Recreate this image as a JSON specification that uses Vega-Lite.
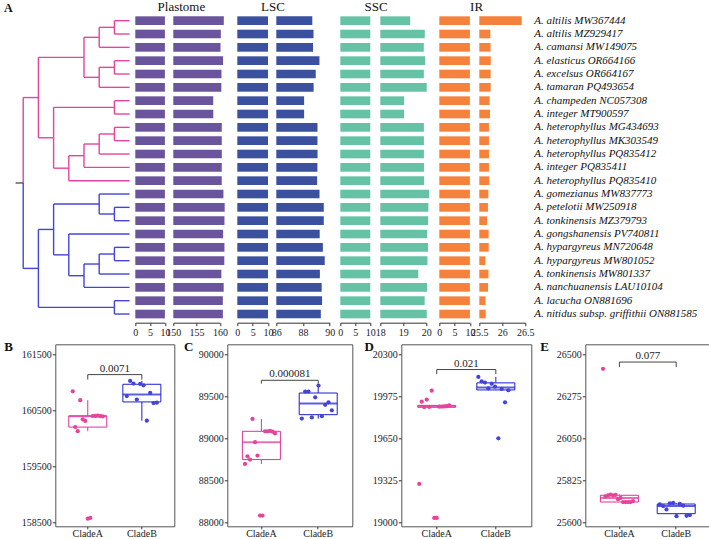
{
 "$schema": "https://vega.github.io/schema/vega-lite/v6.json",
 "padding": {"left": 3.3, "top": 0, "right": 0, "bottom": 0},
 "background": "white",
 "config": {
   "font": "Liberation Serif",
   "view": {"stroke": null},
   "axis": {"grid": false, "domainColor": "#333333", "tickColor": "#333333", "labelColor": "#222222", "labelFont": "Liberation Serif", "labelFontSize": 10, "tickSize": 3, "labelPadding": 1.5, "labelFlush": false, "labelOverlap": false}
 },
 "datasets": {
  "g": [
   {"order": 1, "label": "A. altilis MW367444", "clade": "CladeA", "plastome": 160841, "lsc": 88697, "ssc": 19298, "ir": 26423},
   {"order": 2, "label": "A. altilis MZ929417", "clade": "CladeA", "plastome": 160202, "lsc": 88788, "ssc": 19934, "ir": 25740},
   {"order": 3, "label": "A. camansi MW149075", "clade": "CladeA", "plastome": 160130, "lsc": 88749, "ssc": 19891, "ir": 25745},
   {"order": 4, "label": "A. elasticus OR664166", "clade": "CladeA", "plastome": 160682, "lsc": 89232, "ssc": 19950, "ir": 25750},
   {"order": 5, "label": "A. excelsus OR664167", "clade": "CladeA", "plastome": 160340, "lsc": 88955, "ssc": 19893, "ir": 25746},
   {"order": 6, "label": "A. tamaran PQ493654", "clade": "CladeA", "plastome": 160311, "lsc": 88796, "ssc": 20019, "ir": 25748},
   {"order": 7, "label": "A. champeden NC057308", "clade": "CladeA", "plastome": 158569, "lsc": 88083, "ssc": 19036, "ir": 25725},
   {"order": 8, "label": "A. integer MT900597", "clade": "CladeA", "plastome": 158583, "lsc": 88083, "ssc": 19036, "ir": 25732},
   {"order": 9, "label": "A. heterophyllus MG434693", "clade": "CladeA", "plastome": 160400, "lsc": 89085, "ssc": 19895, "ir": 25710},
   {"order": 10, "label": "A. heterophyllus MK303549", "clade": "CladeA", "plastome": 160401, "lsc": 89085, "ssc": 19896, "ir": 25710},
   {"order": 11, "label": "A. heterophyllus PQ835412", "clade": "CladeA", "plastome": 160407, "lsc": 89090, "ssc": 19897, "ir": 25710},
   {"order": 12, "label": "A. integer PQ835411", "clade": "CladeA", "plastome": 160399, "lsc": 89080, "ssc": 19899, "ir": 25710},
   {"order": 13, "label": "A. heterophyllus PQ835410", "clade": "CladeA", "plastome": 160395, "lsc": 89060, "ssc": 19905, "ir": 25715},
   {"order": 14, "label": "A. gomezianus MW837773", "clade": "CladeB", "plastome": 160755, "lsc": 89236, "ssc": 20125, "ir": 25697},
   {"order": 15, "label": "A. petelotii MW250918", "clade": "CladeB", "plastome": 161024, "lsc": 89557, "ssc": 20091, "ir": 25688},
   {"order": 16, "label": "A. tonkinensis MZ379793", "clade": "CladeB", "plastome": 160978, "lsc": 89557, "ssc": 20081, "ir": 25670},
   {"order": 17, "label": "A. gongshanensis PV740811", "clade": "CladeB", "plastome": 160692, "lsc": 89250, "ssc": 20036, "ir": 25703},
   {"order": 18, "label": "A. hypargyreus MN720648", "clade": "CladeB", "plastome": 160972, "lsc": 89489, "ssc": 20073, "ir": 25705},
   {"order": 19, "label": "A. hypargyreus MW801052", "clade": "CladeB", "plastome": 160946, "lsc": 89628, "ssc": 20050, "ir": 25634},
   {"order": 20, "label": "A. tonkinensis MW801337", "clade": "CladeB", "plastome": 160316, "lsc": 89265, "ssc": 19651, "ir": 25700},
   {"order": 21, "label": "A. nanchuanensis LAU10104", "clade": "CladeB", "plastome": 160812, "lsc": 89400, "ssc": 20032, "ir": 25690},
   {"order": 22, "label": "A. lacucha ON881696", "clade": "CladeB", "plastome": 160631, "lsc": 89430, "ssc": 19929, "ir": 25636},
   {"order": 23, "label": "A. nitidus subsp. griffithii ON881585", "clade": "CladeB", "plastome": 160637, "lsc": 89335, "ssc": 20022, "ir": 25640}
  ],
  "tree": [
   {"c": "A", "x": 6, "x2": 6, "y": 1, "y2": 2},
   {"c": "A", "x": 5, "x2": 5, "y": 1.5, "y2": 3},
   {"c": "A", "x": 6, "x2": 6, "y": 4, "y2": 5},
   {"c": "A", "x": 5, "x2": 5, "y": 4.5, "y2": 6},
   {"c": "A", "x": 4, "x2": 4, "y": 2.25, "y2": 5.25},
   {"c": "A", "x": 6, "x2": 6, "y": 7, "y2": 8},
   {"c": "A", "x": 6, "x2": 6, "y": 9, "y2": 10},
   {"c": "A", "x": 5, "x2": 5, "y": 9.5, "y2": 11},
   {"c": "A", "x": 4, "x2": 4, "y": 10.25, "y2": 12},
   {"c": "A", "x": 3, "x2": 3, "y": 11.125, "y2": 13},
   {"c": "A", "x": 2, "x2": 2, "y": 7.5, "y2": 12.0625},
   {"c": "A", "x": 1, "x2": 1, "y": 3.75, "y2": 9.78125},
   {"c": "A", "x": 0, "x2": 0, "y": 6.765625, "y2": 13.171875},
   {"c": "A", "x": 6, "x2": 7, "y": 1, "y2": 1},
   {"c": "A", "x": 6, "x2": 7, "y": 2, "y2": 2},
   {"c": "A", "x": 5, "x2": 7, "y": 3, "y2": 3},
   {"c": "A", "x": 6, "x2": 7, "y": 4, "y2": 4},
   {"c": "A", "x": 6, "x2": 7, "y": 5, "y2": 5},
   {"c": "A", "x": 5, "x2": 7, "y": 6, "y2": 6},
   {"c": "A", "x": 6, "x2": 7, "y": 7, "y2": 7},
   {"c": "A", "x": 6, "x2": 7, "y": 8, "y2": 8},
   {"c": "A", "x": 6, "x2": 7, "y": 9, "y2": 9},
   {"c": "A", "x": 6, "x2": 7, "y": 10, "y2": 10},
   {"c": "A", "x": 5, "x2": 7, "y": 11, "y2": 11},
   {"c": "A", "x": 4, "x2": 7, "y": 12, "y2": 12},
   {"c": "A", "x": 3, "x2": 7, "y": 13, "y2": 13},
   {"c": "A", "x": 5, "x2": 6, "y": 1.5, "y2": 1.5},
   {"c": "A", "x": 4, "x2": 5, "y": 2.25, "y2": 2.25},
   {"c": "A", "x": 5, "x2": 6, "y": 4.5, "y2": 4.5},
   {"c": "A", "x": 4, "x2": 5, "y": 5.25, "y2": 5.25},
   {"c": "A", "x": 1, "x2": 4, "y": 3.75, "y2": 3.75},
   {"c": "A", "x": 2, "x2": 6, "y": 7.5, "y2": 7.5},
   {"c": "A", "x": 5, "x2": 6, "y": 9.5, "y2": 9.5},
   {"c": "A", "x": 4, "x2": 5, "y": 10.25, "y2": 10.25},
   {"c": "A", "x": 3, "x2": 4, "y": 11.125, "y2": 11.125},
   {"c": "A", "x": 2, "x2": 3, "y": 12.0625, "y2": 12.0625},
   {"c": "A", "x": 1, "x2": 2, "y": 9.78125, "y2": 9.78125},
   {"c": "A", "x": 0, "x2": 1, "y": 6.765625, "y2": 6.765625},
   {"c": "B", "x": 6, "x2": 6, "y": 15, "y2": 16},
   {"c": "B", "x": 5, "x2": 5, "y": 14, "y2": 15.5},
   {"c": "B", "x": 6, "x2": 6, "y": 18, "y2": 19},
   {"c": "B", "x": 5, "x2": 5, "y": 18.5, "y2": 20},
   {"c": "B", "x": 4, "x2": 4, "y": 19.25, "y2": 21},
   {"c": "B", "x": 3, "x2": 3, "y": 17, "y2": 20.125},
   {"c": "B", "x": 2, "x2": 2, "y": 14.75, "y2": 18.5625},
   {"c": "B", "x": 6, "x2": 6, "y": 22, "y2": 23},
   {"c": "B", "x": 1, "x2": 1, "y": 16.65625, "y2": 22.5},
   {"c": "B", "x": 0, "x2": 0, "y": 13.171875, "y2": 19.578125},
   {"c": "B", "x": 5, "x2": 7, "y": 14, "y2": 14},
   {"c": "B", "x": 6, "x2": 7, "y": 15, "y2": 15},
   {"c": "B", "x": 6, "x2": 7, "y": 16, "y2": 16},
   {"c": "B", "x": 3, "x2": 7, "y": 17, "y2": 17},
   {"c": "B", "x": 6, "x2": 7, "y": 18, "y2": 18},
   {"c": "B", "x": 6, "x2": 7, "y": 19, "y2": 19},
   {"c": "B", "x": 5, "x2": 7, "y": 20, "y2": 20},
   {"c": "B", "x": 4, "x2": 7, "y": 21, "y2": 21},
   {"c": "B", "x": 6, "x2": 7, "y": 22, "y2": 22},
   {"c": "B", "x": 6, "x2": 7, "y": 23, "y2": 23},
   {"c": "B", "x": 5, "x2": 6, "y": 15.5, "y2": 15.5},
   {"c": "B", "x": 2, "x2": 5, "y": 14.75, "y2": 14.75},
   {"c": "B", "x": 5, "x2": 6, "y": 18.5, "y2": 18.5},
   {"c": "B", "x": 4, "x2": 5, "y": 19.25, "y2": 19.25},
   {"c": "B", "x": 3, "x2": 4, "y": 20.125, "y2": 20.125},
   {"c": "B", "x": 2, "x2": 3, "y": 18.5625, "y2": 18.5625},
   {"c": "B", "x": 1, "x2": 2, "y": 16.65625, "y2": 16.65625},
   {"c": "B", "x": 1, "x2": 6, "y": 22.5, "y2": 22.5},
   {"c": "B", "x": 0, "x2": 1, "y": 19.578125, "y2": 19.578125},
   {"c": "R", "x": -0.5, "x2": 0, "y": 13.171875, "y2": 13.171875}
  ]
 },
 "spacing": 2.3,
 "vconcat": [
  {
   "bounds": "flush",
   "spacing": 0,
   "hconcat": [
    {
     "width": 124, "height": 306.7,
     "layer": [
      {
       "data": {"name": "tree"},
       "mark": {"type": "rule", "strokeWidth": 1.4},
       "encoding": {
        "x": {"field": "x", "type": "quantitative", "scale": {"domain": [-0.5, 7], "range": [4.3, 118.3], "nice": false, "zero": false}, "axis": null},
        "x2": {"field": "x2"},
        "y": {"field": "y", "type": "quantitative", "scale": {"domain": [0.5, 23.5], "reverse": true, "nice": false, "zero": false}, "axis": null},
        "y2": {"field": "y2"},
        "color": {"field": "c", "type": "nominal", "scale": {"domain": ["A", "B", "R"], "range": ["#e6449c", "#4444d8", "#555555"]}, "legend": null}
       }
      },
      {
       "data": {"values": [{"t": "A"}]},
       "mark": {"type": "text", "align": "left", "baseline": "alphabetic", "dx": -11.7, "dy": -1.6, "fontSize": 12, "fontWeight": "bold", "color": "#111111"},
       "encoding": {"x": {"datum": -0.5, "type": "quantitative", "axis": null}, "y": {"datum": 0.5, "type": "quantitative", "axis": null}, "text": {"field": "t", "type": "nominal"}}
      }
     ]
    },
    {
     "width": 38, "height": 306.7,
     "resolve": {"scale": {"y": "independent"}},
     "layer": [
      {
       "data": {"name": "g"},
       "mark": {"type": "bar", "color": "#6a549b"},
       "encoding": {
        "y": {"field": "order", "type": "ordinal", "axis": null, "scale": {"paddingInner": 0.35, "paddingOuter": 0.175}},
        "x": {"field": "plastome", "type": "quantitative", "scale": {"domain": [0, 10000], "range": [0, 29.6], "clamp": true, "nice": false, "zero": false}, "axis": {"title": null, "values": [0, 5000, 10000], "labelExpr": "datum.value/1000", "offset": 2, "labelOverlap": false}},
        "x2": {"datum": 0}
       }
      },
      {
       "data": {"values": [{"t": "Plastome"}]},
       "mark": {"type": "text", "align": "center", "baseline": "alphabetic", "dx": 46.1, "dy": -3.3, "fontSize": 13, "color": "#111111"},
       "encoding": {"x": {"datum": 0, "type": "quantitative", "axis": {"title": null, "values": [0, 5000, 10000], "labelExpr": "datum.value/1000", "offset": 2, "labelOverlap": false}}, "y": {"datum": 1, "type": "quantitative", "scale": {"domain": [0, 1]}, "axis": null}, "text": {"field": "t", "type": "nominal"}}
      }
     ]
    },
    {
     "width": 63.6, "height": 306.7,
     "data": {"name": "g"},
     "mark": {"type": "bar", "color": "#6a549b"},
     "encoding": {
      "y": {"field": "order", "type": "ordinal", "axis": null, "scale": {"paddingInner": 0.35, "paddingOuter": 0.175}},
      "x": {"field": "plastome", "type": "quantitative", "scale": {"domain": [150000, 160000], "range": [0, 46.6], "nice": false, "zero": false}, "axis": {"title": null, "values": [150000, 155000, 160000], "labelExpr": "datum.value/1000", "offset": 2}},
      "x2": {"datum": 150000}
     }
    },
    {
     "width": 39, "height": 306.7,
     "resolve": {"scale": {"y": "independent"}},
     "layer": [
      {
       "data": {"name": "g"},
       "mark": {"type": "bar", "color": "#3b509e"},
       "encoding": {
        "y": {"field": "order", "type": "ordinal", "axis": null, "scale": {"paddingInner": 0.35, "paddingOuter": 0.175}},
        "x": {"field": "lsc", "type": "quantitative", "scale": {"domain": [0, 10000], "range": [0, 30.7], "clamp": true, "nice": false, "zero": false}, "axis": {"title": null, "values": [0, 5000, 10000], "labelExpr": "datum.value/1000", "offset": 2, "labelOverlap": false}},
        "x2": {"datum": 0}
       }
      },
      {
       "data": {"values": [{"t": "LSC"}]},
       "mark": {"type": "text", "align": "center", "baseline": "alphabetic", "dx": 35.7, "dy": -3.3, "fontSize": 13, "color": "#111111"},
       "encoding": {"x": {"datum": 0, "type": "quantitative", "axis": {"title": null, "values": [0, 5000, 10000], "labelExpr": "datum.value/1000", "offset": 2, "labelOverlap": false}}, "y": {"datum": 1, "type": "quantitative", "scale": {"domain": [0, 1]}, "axis": null}, "text": {"field": "t", "type": "nominal"}}
      }
     ]
    },
    {
     "width": 64, "height": 306.7,
     "data": {"name": "g"},
     "mark": {"type": "bar", "color": "#3b509e"},
     "encoding": {
      "y": {"field": "order", "type": "ordinal", "axis": null, "scale": {"paddingInner": 0.35, "paddingOuter": 0.175}},
      "x": {"field": "lsc", "type": "quantitative", "scale": {"domain": [86000, 90000], "range": [0, 53.4], "nice": false, "zero": false}, "axis": {"title": null, "values": [86000, 88000, 90000], "labelExpr": "datum.value/1000", "offset": 2}},
      "x2": {"datum": 86000}
     }
    },
    {
     "width": 39.7, "height": 306.7,
     "resolve": {"scale": {"y": "independent"}},
     "layer": [
      {
       "data": {"name": "g"},
       "mark": {"type": "bar", "color": "#66c2a5"},
       "encoding": {
        "y": {"field": "order", "type": "ordinal", "axis": null, "scale": {"paddingInner": 0.35, "paddingOuter": 0.175}},
        "x": {"field": "ssc", "type": "quantitative", "scale": {"domain": [0, 10000], "range": [0, 30], "clamp": true, "nice": false, "zero": false}, "axis": {"title": null, "values": [0, 5000, 10000], "labelExpr": "datum.value/1000", "offset": 2, "labelOverlap": false}},
        "x2": {"datum": 0}
       }
      },
      {
       "data": {"values": [{"t": "SSC"}]},
       "mark": {"type": "text", "align": "center", "baseline": "alphabetic", "dx": 35.7, "dy": -3.3, "fontSize": 13, "color": "#111111"},
       "encoding": {"x": {"datum": 0, "type": "quantitative", "axis": {"title": null, "values": [0, 5000, 10000], "labelExpr": "datum.value/1000", "offset": 2, "labelOverlap": false}}, "y": {"datum": 1, "type": "quantitative", "scale": {"domain": [0, 1]}, "axis": null}, "text": {"field": "t", "type": "nominal"}}
      }
     ]
    },
    {
     "width": 58.7, "height": 306.7,
     "data": {"name": "g"},
     "mark": {"type": "bar", "color": "#66c2a5"},
     "encoding": {
      "y": {"field": "order", "type": "ordinal", "axis": null, "scale": {"paddingInner": 0.35, "paddingOuter": 0.175}},
      "x": {"field": "ssc", "type": "quantitative", "scale": {"domain": [18000, 20000], "range": [0, 46], "nice": false, "zero": false}, "axis": {"title": null, "values": [18000, 19000, 20000], "labelExpr": "datum.value/1000", "offset": 2}},
      "x2": {"datum": 18000}
     }
    },
    {
     "width": 39.6, "height": 306.7,
     "resolve": {"scale": {"y": "independent"}},
     "layer": [
      {
       "data": {"name": "g"},
       "mark": {"type": "bar", "color": "#f5823c"},
       "encoding": {
        "y": {"field": "order", "type": "ordinal", "axis": null, "scale": {"paddingInner": 0.35, "paddingOuter": 0.175}},
        "x": {"field": "ir", "type": "quantitative", "scale": {"domain": [0, 10000], "range": [0, 30.6], "clamp": true, "nice": false, "zero": false}, "axis": {"title": null, "values": [0, 5000, 10000], "labelExpr": "datum.value/1000", "offset": 2, "labelOverlap": false}},
        "x2": {"datum": 0}
       }
      },
      {
       "data": {"values": [{"t": "IR"}]},
       "mark": {"type": "text", "align": "center", "baseline": "alphabetic", "dx": 37.3, "dy": -3.3, "fontSize": 13, "color": "#111111"},
       "encoding": {"x": {"datum": 0, "type": "quantitative", "axis": {"title": null, "values": [0, 5000, 10000], "labelExpr": "datum.value/1000", "offset": 2, "labelOverlap": false}}, "y": {"datum": 1, "type": "quantitative", "scale": {"domain": [0, 1]}, "axis": null}, "text": {"field": "t", "type": "nominal"}}
      }
     ]
    },
    {
     "width": 54.4, "height": 306.7,
     "data": {"name": "g"},
     "mark": {"type": "bar", "color": "#f5823c"},
     "encoding": {
      "y": {"field": "order", "type": "ordinal", "axis": null, "scale": {"paddingInner": 0.35, "paddingOuter": 0.175}},
      "x": {"field": "ir", "type": "quantitative", "scale": {"domain": [25500, 26500], "range": [0, 46], "nice": false, "zero": false}, "axis": {"title": null, "values": [25500, 26000, 26500], "labelExpr": "datum.value/1000", "offset": 2}},
      "x2": {"datum": 25500}
     }
    },
    {
     "width": 170, "height": 306.7,
     "data": {"name": "g"},
     "mark": {"type": "text", "align": "left", "baseline": "middle", "fontSize": 11, "fontStyle": "italic", "font": "Liberation Serif", "color": "#111111"},
     "encoding": {
      "y": {"field": "order", "type": "ordinal", "axis": null, "scale": {"paddingInner": 0.35, "paddingOuter": 0.175}},
      "x": {"datum": 0, "type": "quantitative", "scale": {"domain": [0, 1]}, "axis": null},
      "text": {"field": "label"}
     }
    }
   ]
  },
  {
   "bounds": "flush",
   "spacing": 0,
   "hconcat": [
    {"width": 43.6, "height": 182, "data": {"values": [{"a": 1}]}, "mark": {"type": "point", "opacity": 0}},
    {
     "width": 119, "height": 182,
     "view": {"stroke": "#555555", "strokeWidth": 1},
     "data": {"name": "g"},
     "transform": [{"window": [{"op": "percent_rank", "as": "jit"}], "groupby": ["clade"], "sort": [{"field": "order"}]}],
     "layer": [
      {"transform": [{"filter": "datum.clade == 'CladeA'"}], "mark": {"type": "boxplot", "extent": 1.5, "size": 38, "outliers": false, "ticks": false, "color": "#e0309a", "box": {"fill": "white", "stroke": "#e0309a", "strokeWidth": 1}, "median": {"color": "#e0309a", "thickness": 2}, "rule": {"color": "#e0309a", "strokeWidth": 1}},
       "encoding": {
        "x": {"field": "clade", "type": "nominal", "scale": {"domain": ["CladeA", "CladeB"], "paddingInner": 0, "paddingOuter": 0.1}, "axis": {"title": null, "labelAngle": 0, "domain": false, "labelFontSize": 10, "tickSize": 2.5, "labelPadding": 0}},
        "y": {"field": "plastome", "type": "quantitative", "scale": {"domain": [158434, 161678], "nice": false, "zero": false}, "axis": {"title": null, "values": [158500, 159500, 160500, 161500], "format": "d", "domain": false, "labelFontSize": 10, "tickSize": 3, "labelPadding": 1}}
       }},
      {"transform": [{"filter": "datum.clade == 'CladeB'"}], "mark": {"type": "boxplot", "extent": 1.5, "size": 38, "outliers": false, "ticks": false, "color": "#1d1dd0", "box": {"fill": "white", "stroke": "#1d1dd0", "strokeWidth": 1}, "median": {"color": "#1d1dd0", "thickness": 2}, "rule": {"color": "#1d1dd0", "strokeWidth": 1}},
       "encoding": {"x": {"field": "clade", "type": "nominal"}, "y": {"field": "plastome", "type": "quantitative"}}},
      {"mark": {"type": "circle", "size": 18, "opacity": 1}, "encoding": {"x": {"field": "clade", "type": "nominal"}, "y": {"field": "plastome", "type": "quantitative"}, "xOffset": {"field": "jit", "type": "quantitative", "scale": {"domain": [-0.4, 1.4]}}, "color": {"field": "clade", "type": "nominal", "scale": {"domain": ["CladeA", "CladeB"], "range": ["#e0309a", "#1d1dd0"]}, "legend": null}}},
      {"data": {"values": [{"p": "0.0071"}]}, "mark": {"type": "rule", "color": "#444444", "strokeWidth": 1}, "encoding": {"x": {"datum": "CladeA", "type": "nominal"}, "x2": {"datum": "CladeB"}, "y": {"datum": 161138, "type": "quantitative"}}},
      {"data": {"values": [{"p": "0.0071"}]}, "mark": {"type": "rule", "color": "#444444", "strokeWidth": 1}, "encoding": {"x": {"datum": "CladeA", "type": "nominal"}, "y": {"datum": 161138, "type": "quantitative"}, "y2": {"datum": 161049}}},
      {"data": {"values": [{"p": "0.0071"}]}, "mark": {"type": "rule", "color": "#444444", "strokeWidth": 1}, "encoding": {"x": {"datum": "CladeB", "type": "nominal"}, "y": {"datum": 161138, "type": "quantitative"}, "y2": {"datum": 161049}}},
      {"data": {"values": [{"p": "0.0071"}]}, "mark": {"type": "text", "baseline": "bottom", "dy": -1, "fontSize": 11, "color": "#222222"}, "encoding": {"x": {"datum": "CladeA", "type": "nominal", "bandPosition": 1}, "y": {"datum": 161138, "type": "quantitative"}, "text": {"field": "p", "type": "nominal"}}},
      {"data": {"values": [{"t": "B"}]}, "mark": {"type": "text", "align": "left", "baseline": "alphabetic", "dx": -56.4, "dy": 6.7, "fontSize": 13, "fontWeight": "bold", "color": "#111111"}, "encoding": {"x": {"datum": "CladeA", "type": "nominal", "bandPosition": 0}, "y": {"datum": 161678, "type": "quantitative"}, "text": {"field": "t", "type": "nominal"}}}
     ]
    },
    {"width": 52.7, "height": 182, "data": {"values": [{"a": 1}]}, "mark": {"type": "point", "opacity": 0}},
    {
     "width": 125, "height": 182,
     "view": {"stroke": "#555555", "strokeWidth": 1},
     "data": {"name": "g"},
     "transform": [{"window": [{"op": "percent_rank", "as": "jit"}], "groupby": ["clade"], "sort": [{"field": "order"}]}],
     "layer": [
      {"transform": [{"filter": "datum.clade == 'CladeA'"}], "mark": {"type": "boxplot", "extent": 1.5, "size": 38, "outliers": false, "ticks": false, "color": "#e0309a", "box": {"fill": "white", "stroke": "#e0309a", "strokeWidth": 1}, "median": {"color": "#e0309a", "thickness": 2}, "rule": {"color": "#e0309a", "strokeWidth": 1}},
       "encoding": {
        "x": {"field": "clade", "type": "nominal", "scale": {"domain": ["CladeA", "CladeB"], "paddingInner": 0, "paddingOuter": 0.1}, "axis": {"title": null, "labelAngle": 0, "domain": false, "labelFontSize": 10, "tickSize": 2.5, "labelPadding": 0}},
        "y": {"field": "lsc", "type": "quantitative", "scale": {"domain": [87956, 90119], "nice": false, "zero": false}, "axis": {"title": null, "values": [88000, 88500, 89000, 89500, 90000], "format": "d", "domain": false, "labelFontSize": 10, "tickSize": 3, "labelPadding": 1}}
       }},
      {"transform": [{"filter": "datum.clade == 'CladeB'"}], "mark": {"type": "boxplot", "extent": 1.5, "size": 38, "outliers": false, "ticks": false, "color": "#1d1dd0", "box": {"fill": "white", "stroke": "#1d1dd0", "strokeWidth": 1}, "median": {"color": "#1d1dd0", "thickness": 2}, "rule": {"color": "#1d1dd0", "strokeWidth": 1}},
       "encoding": {"x": {"field": "clade", "type": "nominal"}, "y": {"field": "lsc", "type": "quantitative"}}},
      {"mark": {"type": "circle", "size": 18, "opacity": 1}, "encoding": {"x": {"field": "clade", "type": "nominal"}, "y": {"field": "lsc", "type": "quantitative"}, "xOffset": {"field": "jit", "type": "quantitative", "scale": {"domain": [-0.4, 1.4]}}, "color": {"field": "clade", "type": "nominal", "scale": {"domain": ["CladeA", "CladeB"], "range": ["#e0309a", "#1d1dd0"]}, "legend": null}}},
      {"data": {"values": [{"p": "0.000081"}]}, "mark": {"type": "rule", "color": "#444444", "strokeWidth": 1}, "encoding": {"x": {"datum": "CladeA", "type": "nominal"}, "x2": {"datum": "CladeB"}, "y": {"datum": 89691, "type": "quantitative"}}},
      {"data": {"values": [{"p": "0.000081"}]}, "mark": {"type": "rule", "color": "#444444", "strokeWidth": 1}, "encoding": {"x": {"datum": "CladeA", "type": "nominal"}, "y": {"datum": 89691, "type": "quantitative"}, "y2": {"datum": 89652}}},
      {"data": {"values": [{"p": "0.000081"}]}, "mark": {"type": "rule", "color": "#444444", "strokeWidth": 1}, "encoding": {"x": {"datum": "CladeB", "type": "nominal"}, "y": {"datum": 89691, "type": "quantitative"}, "y2": {"datum": 89652}}},
      {"data": {"values": [{"p": "0.000081"}]}, "mark": {"type": "text", "baseline": "bottom", "dy": -1, "fontSize": 11, "color": "#222222"}, "encoding": {"x": {"datum": "CladeA", "type": "nominal", "bandPosition": 1}, "y": {"datum": 89691, "type": "quantitative"}, "text": {"field": "p", "type": "nominal"}}},
      {"data": {"values": [{"t": "C"}]}, "mark": {"type": "text", "align": "left", "baseline": "alphabetic", "dx": -49, "dy": 6.7, "fontSize": 13, "fontWeight": "bold", "color": "#111111"}, "encoding": {"x": {"datum": "CladeA", "type": "nominal", "bandPosition": 0}, "y": {"datum": 90119, "type": "quantitative"}, "text": {"field": "t", "type": "nominal"}}}
     ]
    },
    {"width": 49, "height": 182, "data": {"values": [{"a": 1}]}, "mark": {"type": "point", "opacity": 0}},
    {
     "width": 130, "height": 182,
     "view": {"stroke": "#555555", "strokeWidth": 1},
     "data": {"name": "g"},
     "transform": [{"window": [{"op": "percent_rank", "as": "jit"}], "groupby": ["clade"], "sort": [{"field": "order"}]}],
     "layer": [
      {"transform": [{"filter": "datum.clade == 'CladeA'"}], "mark": {"type": "boxplot", "extent": 1.5, "size": 38, "outliers": false, "ticks": false, "color": "#e0309a", "box": {"fill": "white", "stroke": "#e0309a", "strokeWidth": 1}, "median": {"color": "#e0309a", "thickness": 2}, "rule": {"color": "#e0309a", "strokeWidth": 1}},
       "encoding": {
        "x": {"field": "clade", "type": "nominal", "scale": {"domain": ["CladeA", "CladeB"], "paddingInner": 0, "paddingOuter": 0.1}, "axis": {"title": null, "labelAngle": 0, "domain": false, "labelFontSize": 10, "tickSize": 2.5, "labelPadding": 0}},
        "y": {"field": "ssc", "type": "quantitative", "scale": {"domain": [18971, 20377], "nice": false, "zero": false}, "axis": {"title": null, "values": [19000, 19325, 19650, 19975, 20300], "format": "d", "domain": false, "labelFontSize": 10, "tickSize": 3, "labelPadding": 1}}
       }},
      {"transform": [{"filter": "datum.clade == 'CladeB'"}], "mark": {"type": "boxplot", "extent": 1.5, "size": 38, "outliers": false, "ticks": false, "color": "#1d1dd0", "box": {"fill": "white", "stroke": "#1d1dd0", "strokeWidth": 1}, "median": {"color": "#1d1dd0", "thickness": 2}, "rule": {"color": "#1d1dd0", "strokeWidth": 1}},
       "encoding": {"x": {"field": "clade", "type": "nominal"}, "y": {"field": "ssc", "type": "quantitative"}}},
      {"mark": {"type": "circle", "size": 18, "opacity": 1}, "encoding": {"x": {"field": "clade", "type": "nominal"}, "y": {"field": "ssc", "type": "quantitative"}, "xOffset": {"field": "jit", "type": "quantitative", "scale": {"domain": [-0.4, 1.4]}}, "color": {"field": "clade", "type": "nominal", "scale": {"domain": ["CladeA", "CladeB"], "range": ["#e0309a", "#1d1dd0"]}, "legend": null}}},
      {"data": {"values": [{"p": "0.021"}]}, "mark": {"type": "rule", "color": "#444444", "strokeWidth": 1}, "encoding": {"x": {"datum": "CladeA", "type": "nominal"}, "x2": {"datum": "CladeB"}, "y": {"datum": 20182, "type": "quantitative"}}},
      {"data": {"values": [{"p": "0.021"}]}, "mark": {"type": "rule", "color": "#444444", "strokeWidth": 1}, "encoding": {"x": {"datum": "CladeA", "type": "nominal"}, "y": {"datum": 20182, "type": "quantitative"}, "y2": {"datum": 20146}}},
      {"data": {"values": [{"p": "0.021"}]}, "mark": {"type": "rule", "color": "#444444", "strokeWidth": 1}, "encoding": {"x": {"datum": "CladeB", "type": "nominal"}, "y": {"datum": 20182, "type": "quantitative"}, "y2": {"datum": 20146}}},
      {"data": {"values": [{"p": "0.021"}]}, "mark": {"type": "text", "baseline": "bottom", "dy": -1, "fontSize": 11, "color": "#222222"}, "encoding": {"x": {"datum": "CladeA", "type": "nominal", "bandPosition": 1}, "y": {"datum": 20182, "type": "quantitative"}, "text": {"field": "p", "type": "nominal"}}},
      {"data": {"values": [{"t": "D"}]}, "mark": {"type": "text", "align": "left", "baseline": "alphabetic", "dx": -42.6, "dy": 6.7, "fontSize": 13, "fontWeight": "bold", "color": "#111111"}, "encoding": {"x": {"datum": "CladeA", "type": "nominal", "bandPosition": 0}, "y": {"datum": 20377, "type": "quantitative"}, "text": {"field": "t", "type": "nominal"}}}
     ]
    },
    {"width": 53.3, "height": 182, "data": {"values": [{"a": 1}]}, "mark": {"type": "point", "opacity": 0}},
    {
     "width": 125, "height": 182,
     "view": {"stroke": "#555555", "strokeWidth": 1},
     "data": {"name": "g"},
     "transform": [{"window": [{"op": "percent_rank", "as": "jit"}], "groupby": ["clade"], "sort": [{"field": "order"}]}],
     "layer": [
      {"transform": [{"filter": "datum.clade == 'CladeA'"}], "mark": {"type": "boxplot", "extent": 1.5, "size": 38, "outliers": false, "ticks": false, "color": "#e0309a", "box": {"fill": "white", "stroke": "#e0309a", "strokeWidth": 1}, "median": {"color": "#e0309a", "thickness": 2}, "rule": {"color": "#e0309a", "strokeWidth": 1}},
       "encoding": {
        "x": {"field": "clade", "type": "nominal", "scale": {"domain": ["CladeA", "CladeB"], "paddingInner": 0, "paddingOuter": 0.1}, "axis": {"title": null, "labelAngle": 0, "domain": false, "labelFontSize": 10, "tickSize": 2.5, "labelPadding": 0}},
        "y": {"field": "ir", "type": "quantitative", "scale": {"domain": [25580, 26554], "nice": false, "zero": false}, "axis": {"title": null, "values": [25600, 25825, 26050, 26275, 26500], "format": "d", "domain": false, "labelFontSize": 10, "tickSize": 3, "labelPadding": 1}}
       }},
      {"transform": [{"filter": "datum.clade == 'CladeB'"}], "mark": {"type": "boxplot", "extent": 1.5, "size": 38, "outliers": false, "ticks": false, "color": "#1d1dd0", "box": {"fill": "white", "stroke": "#1d1dd0", "strokeWidth": 1}, "median": {"color": "#1d1dd0", "thickness": 2}, "rule": {"color": "#1d1dd0", "strokeWidth": 1}},
       "encoding": {"x": {"field": "clade", "type": "nominal"}, "y": {"field": "ir", "type": "quantitative"}}},
      {"mark": {"type": "circle", "size": 18, "opacity": 1}, "encoding": {"x": {"field": "clade", "type": "nominal"}, "y": {"field": "ir", "type": "quantitative"}, "xOffset": {"field": "jit", "type": "quantitative", "scale": {"domain": [-0.4, 1.4]}}, "color": {"field": "clade", "type": "nominal", "scale": {"domain": ["CladeA", "CladeB"], "range": ["#e0309a", "#1d1dd0"]}, "legend": null}}},
      {"data": {"values": [{"p": "0.077"}]}, "mark": {"type": "rule", "color": "#444444", "strokeWidth": 1}, "encoding": {"x": {"datum": "CladeA", "type": "nominal"}, "x2": {"datum": "CladeB"}, "y": {"datum": 26459, "type": "quantitative"}}},
      {"data": {"values": [{"p": "0.077"}]}, "mark": {"type": "rule", "color": "#444444", "strokeWidth": 1}, "encoding": {"x": {"datum": "CladeA", "type": "nominal"}, "y": {"datum": 26459, "type": "quantitative"}, "y2": {"datum": 26432}}},
      {"data": {"values": [{"p": "0.077"}]}, "mark": {"type": "rule", "color": "#444444", "strokeWidth": 1}, "encoding": {"x": {"datum": "CladeB", "type": "nominal"}, "y": {"datum": 26459, "type": "quantitative"}, "y2": {"datum": 26432}}},
      {"data": {"values": [{"p": "0.077"}]}, "mark": {"type": "text", "baseline": "bottom", "dy": -1, "fontSize": 11, "color": "#222222"}, "encoding": {"x": {"datum": "CladeA", "type": "nominal", "bandPosition": 1}, "y": {"datum": 26459, "type": "quantitative"}, "text": {"field": "p", "type": "nominal"}}},
      {"data": {"values": [{"t": "E"}]}, "mark": {"type": "text", "align": "left", "baseline": "alphabetic", "dx": -50.7, "dy": 6.7, "fontSize": 13, "fontWeight": "bold", "color": "#111111"}, "encoding": {"x": {"datum": "CladeA", "type": "nominal", "bandPosition": 0}, "y": {"datum": 26554, "type": "quantitative"}, "text": {"field": "t", "type": "nominal"}}}
     ]
    }
   ]
  }
 ]
}
